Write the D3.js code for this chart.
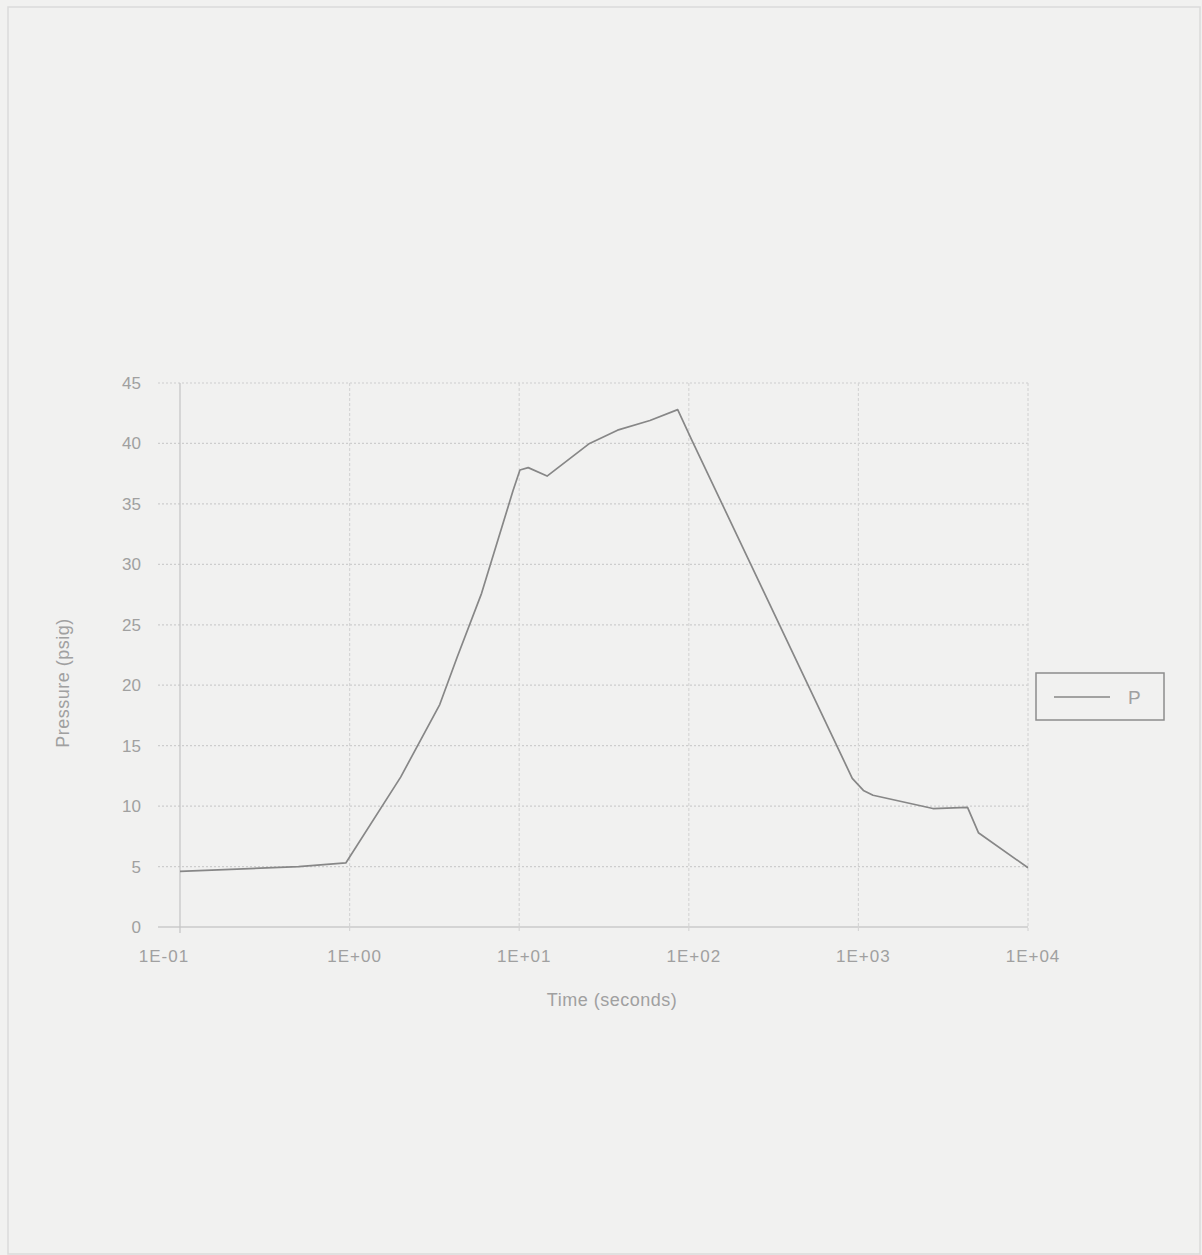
<!DOCTYPE html>
<html lang="en">
<head>
    <meta charset="UTF-8">
    <title>Pressure vs Time</title>
    <script src="https://d3js.org/d3.v7.min.js"></script>
    <style>
        body, html {
            margin: 0;
            padding: 0;
            background-color: #f1f1f0;
        }
        #chart text {
            font-family: "Liberation Sans", Arial, sans-serif;
            fill: #a0a0a0;
        }
    </style>
</head>
<body>
    <div id="chart"></div>
    <script>
    (function() {
        // values
        const times = [0.1, 0.5, 0.95, 2, 3.4, 4.3, 6, 9.2, 10.1, 11.3, 14.6, 26, 38, 59, 86, 104, 920, 1070, 1220, 2750, 4400, 5100, 10000];
        const pressures = [4.6, 5.0, 5.3, 12.4, 18.4, 22.3, 27.6, 36.1, 37.8, 38.0, 37.3, 40.0, 41.1, 41.9, 42.8, 40.3, 12.3, 11.3, 10.9, 9.8, 9.9, 7.8, 4.9];
        const xTicks = [0.1, 1, 10, 100, 1000, 10000];
        const yTicks = [0, 5, 10, 15, 20, 25, 30, 35, 40, 45];
        const seriesName = "P";

        const W = 1202, H = 1255;
        const left = 180, right = 1028, top = 383, bottom = 927;

        const svg = d3.select("#chart").append("svg")
            .attr("width", W)
            .attr("height", H);

        // page border from the scan
        svg.append("rect")
            .attr("x", 8).attr("y", 7)
            .attr("width", W - 10).attr("height", H - 8)
            .attr("fill", "none")
            .attr("stroke", "#dadada")
            .attr("stroke-width", 1.5);

        const x = d3.scaleLog().domain([0.1, 10000]).range([left, right]);
        const y = d3.scaleLinear().domain([0, 45]).range([bottom, top]);

        const fmtE = d => {
            const e = Math.round(Math.log10(d));
            return "1E" + (e < 0 ? "-" : "+") + String(Math.abs(e)).padStart(2, "0");
        };

        // horizontal grid lines (dotted), extending left as ticks
        svg.append("g")
            .selectAll("line")
            .data(yTicks)
            .enter().append("line")
            .attr("x1", left - 22).attr("x2", right)
            .attr("y1", d => y(d)).attr("y2", d => y(d))
            .attr("stroke", d => d === 0 ? "#b8b8b8" : "#cdcdcd")
            .attr("stroke-width", 1.2)
            .attr("stroke-dasharray", d => d === 0 ? null : "2,2");

        // vertical grid lines
        svg.append("g")
            .selectAll("line")
            .data(xTicks)
            .enter().append("line")
            .attr("x1", d => x(d)).attr("x2", d => x(d))
            .attr("y1", top).attr("y2", bottom + 6)
            .attr("stroke", d => d === 0.1 ? "#c4c4c4" : "#d6d6d6")
            .attr("stroke-width", 1.2)
            .attr("stroke-dasharray", d => d === 0.1 ? null : "3,2");

        // y tick labels
        svg.append("g")
            .selectAll("text")
            .data(yTicks)
            .enter().append("text")
            .attr("x", 141)
            .attr("y", d => y(d))
            .attr("dy", "0.35em")
            .attr("text-anchor", "end")
            .attr("font-size", 17)
            .text(d => d);

        // x tick labels (first one sits a little left of its tick in the scan)
        svg.append("g")
            .selectAll("text")
            .data(xTicks)
            .enter().append("text")
            .attr("x", (d, i) => x(d) + (i === 0 ? -16 : 5))
            .attr("y", 962)
            .attr("text-anchor", "middle")
            .attr("font-size", 17)
            .attr("letter-spacing", 1)
            .text(fmtE);

        // axis titles
        svg.append("text")
            .attr("x", 612).attr("y", 1006)
            .attr("text-anchor", "middle")
            .attr("font-size", 18)
            .attr("letter-spacing", 0.5)
            .text("Time (seconds)");

        svg.append("text")
            .attr("transform", "translate(69,683) rotate(-90)")
            .attr("text-anchor", "middle")
            .attr("font-size", 18)
            .attr("letter-spacing", 0.5)
            .text("Pressure (psig)");

        // pressure curve
        const pts = times.map((t, i) => [t, pressures[i]]);
        const line = d3.line()
            .x(d => x(d[0]))
            .y(d => y(d[1]));

        svg.append("path")
            .datum(pts)
            .attr("d", line)
            .attr("fill", "none")
            .attr("stroke", "#878787")
            .attr("stroke-width", 1.7)
            .attr("stroke-linejoin", "round");

        // legend
        const lg = svg.append("g").attr("transform", "translate(1036,673)");
        lg.append("rect")
            .attr("width", 128).attr("height", 47)
            .attr("fill", "none")
            .attr("stroke", "#8c8c8c")
            .attr("stroke-width", 1.5);
        lg.append("line")
            .attr("x1", 18).attr("x2", 74)
            .attr("y1", 24).attr("y2", 24)
            .attr("stroke", "#878787")
            .attr("stroke-width", 1.7);
        lg.append("text")
            .attr("x", 92).attr("y", 24)
            .attr("dy", "0.35em")
            .attr("font-size", 19)
            .text(seriesName);
    })();
    </script>
</body>
</html>
